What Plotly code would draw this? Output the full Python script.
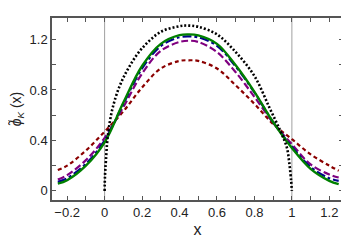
import plotly.graph_objects as go

# --- data ---
x_tail = [-0.25, -0.2, -0.1, 0.0, 0.1, 0.2, 0.3, 0.4, 0.45, 0.5, 0.6, 0.7, 0.8, 0.9, 1.0, 1.1, 1.2, 1.25]
y_green = [0.058, 0.085, 0.20, 0.385, 0.70, 0.99, 1.165, 1.234, 1.24, 1.232, 1.165, 0.995, 0.785, 0.545, 0.34, 0.175, 0.08, 0.053]
y_blue = [0.072, 0.10, 0.215, 0.40, 0.69, 0.97, 1.148, 1.218, 1.225, 1.217, 1.15, 0.985, 0.78, 0.545, 0.35, 0.19, 0.10, 0.08]
y_purple = [0.09, 0.125, 0.244, 0.42, 0.665, 0.93, 1.11, 1.18, 1.19, 1.18, 1.10, 0.94, 0.745, 0.54, 0.37, 0.21, 0.13, 0.106]
y_red = [0.165, 0.20, 0.32, 0.47, 0.63, 0.82, 0.97, 1.03, 1.035, 1.03, 0.97, 0.836, 0.69, 0.53, 0.41, 0.29, 0.20, 0.16]

x_black = [0.0, 0.002, 0.007, 0.016, 0.04, 0.08, 0.13, 0.2, 0.3, 0.4, 0.44, 0.5, 0.6, 0.7, 0.8, 0.88, 0.94, 0.973, 0.987, 0.996, 1.0]
y_black = [0.0, 0.12, 0.24, 0.42, 0.64, 0.83, 0.98, 1.13, 1.26, 1.305, 1.31, 1.30, 1.24, 1.10, 0.91, 0.66, 0.47, 0.345, 0.21, 0.08, 0.0]

x_vlines = [0, 1]

x_ticks = [-0.2, 0, 0.2, 0.4, 0.6, 0.8, 1, 1.2]
x_ticklabels = ["\u22120.2", "0", "0.2", "0.4", "0.6", "0.8", "1", "1.2"]
y_ticks = [0, 0.4, 0.8, 1.2]
y_ticklabels = ["0", "0.4", "0.8", "1.2"]

fig = go.Figure()

for xv in x_vlines:
    fig.add_shape(type="line", x0=xv, x1=xv, y0=0, y1=1, xref="x", yref="paper",
                  line=dict(color="#a0a0a0", width=1), layer="below")

fig.add_trace(go.Scatter(x=x_tail, y=y_red, mode="lines", line=dict(color="#8b0000", width=2.2, dash="4px,3px", shape="spline")))
fig.add_trace(go.Scatter(x=x_tail, y=y_purple, mode="lines", line=dict(color="#800080", width=2.2, dash="7px,3px", shape="spline")))
fig.add_trace(go.Scatter(x=x_tail, y=y_blue, mode="lines", line=dict(color="#00008b", width=2.2, dash="dashdot", shape="spline")))
fig.add_trace(go.Scatter(x=x_tail, y=y_green, mode="lines", line=dict(color="#008000", width=2.4, shape="spline")))
fig.add_trace(go.Scatter(x=x_black, y=y_black, mode="lines", line=dict(color="black", width=2.6, dash="2px,2px", shape="spline")))

font_fam = "Liberation Sans, Arial"
axis_common = dict(
    showgrid=False, zeroline=False, showline=True, mirror="ticks",
    linecolor="#555555", linewidth=1.5, ticks="inside", ticklen=4, tickwidth=1,
    tickcolor="#555555", tickfont=dict(family=font_fam, size=13, color="#222222"),
)

fig.update_xaxes(range=[-0.281, 1.273], tickvals=x_ticks, ticktext=x_ticklabels,
                 minor=dict(ticks="inside", ticklen=4, dtick=0.1, tick0=0, tickcolor="#555555"),
                 title=dict(text="x", font=dict(family=font_fam, size=16, color="#222222"), standoff=4),
                 **axis_common)
fig.update_yaxes(range=[-0.072, 1.37], tickvals=y_ticks, ticktext=y_ticklabels,
                 minor=dict(ticks="inside", ticklen=4, dtick=0.2, tick0=0, tickcolor="#555555"),
                 title=dict(text="<i>\u03d5\u0303</i><sub><i>K</i></sub> (x)", font=dict(family=font_fam, size=14, color="#222222"), standoff=6),
                 **axis_common)

# page body has an 8px margin, so the figure is 8px smaller and margins shifted
fig.update_layout(
    width=341, height=232, showlegend=False,
    margin=dict(l=44, r=4, t=10, b=33),
    paper_bgcolor="white", plot_bgcolor="white",
)

fig.write_html("out.html")
